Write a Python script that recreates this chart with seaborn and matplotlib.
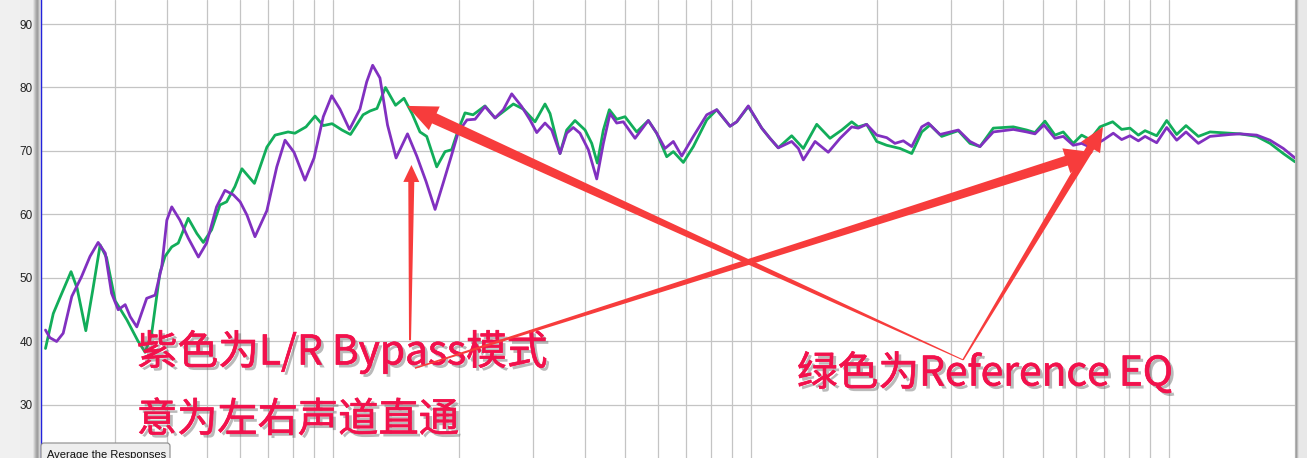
import numpy as np
import pandas as pd
import matplotlib
matplotlib.use("Agg")
import matplotlib.pyplot as plt
import matplotlib.patheffects as pe
from matplotlib.patches import Polygon, FancyBboxPatch
from matplotlib.ticker import NullFormatter
import seaborn as sns

# ── Data (Hz, dB SPL) ───────────────────────────────
freq_green = [20.5, 21.4, 22.2, 23.6, 24.4, 25.6, 26.6, 27.7, 28.7, 30.1,
              32.1, 34.1, 35.5, 36.8, 38.5, 39.6, 41.1, 42.6, 45.0, 47.2,
              48.9, 51.2, 53.6, 55.6, 58.2, 60.5, 64.8, 69.4, 72.6, 78.0,
              81.0, 86.1, 90.5, 94.7, 99.4, 105.0, 110.0, 117.9, 122.5, 127.3,
              133.4, 141.0, 147.7, 154.4, 161.3, 167.4, 176.9, 185.2, 192.1, 198.9,
              206.7, 216.1, 230.8, 243.9, 255.3, 269.8, 285.0, 304.0, 321.2, 330.2,
              348.9, 362.0, 378.9, 400.5, 415.5, 428.5, 443.0, 457.8, 476.8, 499.1,
              532.3, 567.5, 594.3, 628.0, 651.3, 688.2, 727.2, 782.9, 827.2, 890.1,
              923.6, 984.3, 1060, 1109, 1161, 1250, 1333, 1435, 1544, 1647,
              1740, 1804, 1889, 1997, 2110, 2270, 2422, 2559, 2679, 2856,
              3130, 3338, 3527, 3795, 4238, 4562, 4775, 5045, 5331, 5580,
              5896, 6175, 6464, 6831, 7326, 7698, 8058, 8439, 8756, 9336,
              9865, 10424, 10972, 11744, 12522, 13980, 14772, 16196, 17429, 18753, 20000]
db_green = [38.9, 44.4, 46.9, 51.0, 48.4, 41.7, 48.1, 55.2, 53.2, 46.4,
            43.4, 40.1, 38.3, 41.3, 50.8, 53.4, 54.9, 55.5, 59.4, 57.0,
            55.6, 57.6, 61.5, 62.0, 64.4, 67.2, 64.9, 70.6, 72.5, 73.0,
            72.8, 73.8, 75.5, 74.0, 74.3, 73.3, 72.6, 75.7, 76.3, 76.7,
            80.0, 77.2, 78.3, 75.9, 73.0, 72.3, 67.5, 69.9, 70.2, 73.2,
            76.0, 75.7, 77.1, 75.2, 76.2, 77.4, 76.6, 74.6, 77.4, 75.9,
            69.6, 73.3, 74.8, 73.3, 71.2, 68.1, 73.3, 76.5, 75.0, 75.4,
            73.0, 74.8, 72.8, 69.1, 69.9, 68.2, 70.7, 74.9, 76.5, 73.9,
            74.6, 77.0, 73.6, 72.0, 70.5, 72.4, 70.4, 74.2, 72.0, 73.3,
            74.6, 73.8, 74.2, 71.5, 70.9, 70.4, 69.6, 73.0, 74.1, 72.3,
            73.2, 71.2, 70.7, 73.6, 73.8, 73.3, 72.9, 74.7, 72.5, 73.0,
            71.2, 72.5, 71.8, 73.8, 74.6, 73.4, 73.6, 72.5, 73.2, 72.4,
            74.8, 72.6, 74.0, 72.3, 73.0, 72.8, 72.7, 72.3, 71.2, 69.6, 68.3]

freq_purple = [20.5, 21.0, 21.8, 22.6, 23.7, 25.0, 26.2, 27.4, 28.5, 29.5,
               30.6, 31.8, 32.7, 33.9, 35.8, 37.5, 38.9, 40.0, 41.1, 43.0,
               45.0, 47.6, 49.8, 52.6, 55.1, 57.7, 59.9, 62.2, 65.0, 69.4,
               73.3, 76.7, 80.6, 85.6, 90.0, 94.7, 99.2, 103.8, 109.4, 115.9,
               120.3, 124.3, 129.4, 134.9, 141.4, 150.6, 158.5, 166.8, 175.3, 183.4,
               192.1, 199.3, 209.0, 218.5, 230.8, 243.9, 255.3, 267.4, 282.5, 295.7,
               306.9, 321.2, 333.3, 348.9, 362.0, 375.3, 389.5, 407.8, 427.1, 443.0,
               459.5, 476.8, 494.4, 527.4, 567.5, 594.3, 622.1, 651.3, 682.2, 727.2,
               782.9, 827.2, 890.1, 923.6, 984.3, 1060, 1109, 1161, 1250, 1297,
               1333, 1422, 1529, 1632, 1740, 1804, 1889, 1997, 2110, 2208,
               2312, 2422, 2559, 2654, 2829, 3130, 3338, 3527, 3795, 4238,
               4562, 4775, 5017, 5331, 5580, 5896, 6175, 6464, 6945, 7350,
               7698, 8058, 8439, 8756, 9336, 9865, 10424, 10972, 11744, 12522,
               13980, 14772, 16196, 17429, 18753, 20000]
db_purple = [41.8, 40.6, 40.0, 41.3, 47.1, 50.2, 53.4, 55.6, 53.9, 47.6,
             45.0, 45.8, 43.9, 42.3, 46.8, 47.3, 51.8, 59.1, 61.2, 59.1,
             56.3, 53.3, 55.5, 61.2, 63.8, 63.1, 62.0, 59.9, 56.5, 60.6,
             67.5, 71.7, 69.8, 65.4, 68.9, 75.4, 78.7, 76.6, 73.4, 76.6,
             80.9, 83.5, 81.5, 74.1, 68.9, 72.7, 69.2, 65.2, 60.8, 65.0,
             69.4, 73.0, 74.9, 75.0, 77.0, 75.2, 76.5, 79.0, 77.0, 74.9,
             72.9, 74.4, 73.3, 69.6, 72.8, 73.7, 72.8, 70.2, 65.6, 71.2,
             75.9, 74.4, 74.6, 72.0, 74.8, 72.8, 70.4, 71.5, 69.2, 72.3,
             75.7, 76.5, 73.9, 74.6, 77.1, 73.6, 72.0, 70.5, 71.5, 70.4,
             68.6, 71.5, 69.8, 72.0, 73.8, 73.6, 74.2, 72.5, 72.1, 71.2,
             71.6, 70.7, 73.8, 74.4, 72.6, 73.3, 71.5, 70.7, 73.0, 73.4,
             73.0, 72.7, 74.1, 72.0, 72.3, 70.9, 71.2, 70.6, 71.7, 72.8,
             71.8, 72.4, 71.6, 72.3, 71.3, 73.7, 71.7, 73.0, 71.2, 72.3,
             72.6, 72.7, 72.5, 71.7, 70.4, 68.9]

series_names = ["Reference EQ", "L/R Bypass"]
y_ticks = [30, 40, 50, 60, 70, 80, 90]
grid_freqs = [20, 30, 40, 50, 60, 70, 80, 90,
              100, 200, 300, 400, 500, 600, 700, 800, 900,
              1000, 2000, 3000, 4000, 5000, 6000, 7000, 8000, 9000,
              10000, 20000]

label_purple = ["紫色为L/R Bypass模式", "意为左右声道直通"]
label_green = "绿色为Reference EQ"

# arrow (tail, tip) pairs in data units (Hz, dB)
arrow_vertical = ((152.7, 40.2), (153.9, 67.8))
arrow_to_green = ((3212, 37.1), (150.2, 77.1))
arrow_to_purple = ((156.9, 35.8), (6574, 69.8))
arrow_up_right = ((3212, 37.1), (6945, 73.8))

df = pd.concat([
    pd.DataFrame({"freq": freq_green, "dB": db_green, "curve": series_names[0]}),
    pd.DataFrame({"freq": freq_purple, "dB": db_purple, "curve": series_names[1]}),
], ignore_index=True)

# ── Style ────────────────────────────────────────────────────────────────────
sns.set_theme(style="white")
plt.rcParams['font.family'] = ['Noto Sans CJK SC', 'DejaVu Sans']

W, H = 1307, 458
fig = plt.figure(figsize=(W / 100, H / 100), dpi=100)

# grey side panels (REW window chrome)
left_cols = np.array([0.94] * 20 + [0.93] * 13 + [0.88, 0.80, 0.72, 0.65, 0.62, 0.70, 0.82, 0.90])
pan = fig.add_axes([0, 0, 41 / W, 1])
pan.imshow(np.tile(left_cols, (2, 1)), cmap="gray", vmin=0, vmax=1,
           aspect="auto", interpolation="nearest")
pan.axis("off")

right_cols = np.array([0.70, 0.62, 0.74, 0.86] + [0.91] * 8)
pan_r = fig.add_axes([1295 / W, 0, 12 / W, 1])
pan_r.imshow(np.tile(right_cols, (2, 1)), cmap="gray", vmin=0, vmax=1,
             aspect="auto", interpolation="nearest")
pan_r.axis("off")

# main plot area
ax = fig.add_axes([41 / W, 0, 1254 / W, 1])
ax.set_facecolor("white")
ax.set_xscale("log")

sns.lineplot(data=df, x="freq", y="dB", hue="curve", hue_order=series_names,
             palette=["#12ad5a", "#8130c0"], estimator=None, sort=False,
             linewidth=2.0, legend=False, ax=ax)
for ln in ax.lines:
    ln.set_solid_joinstyle("round")
    ln.set_solid_capstyle("round")

ax.set_xlim(20, 20000)
ax.set_ylim(21.65, 93.78)
ax.set_xticks(grid_freqs)
ax.set_xticks([], minor=True)
ax.xaxis.set_major_formatter(NullFormatter())
ax.set_yticks(y_ticks, labels=[str(v) for v in y_ticks],
              fontfamily="Liberation Sans", fontsize=8.5, color="#222222")
ax.tick_params(axis="both", length=0)
ax.tick_params(axis="y", pad=6)
ax.set_xlabel("")
ax.set_ylabel("")
ax.grid(True, which="major", color="#c4c4c4", linewidth=0.9)
ax.set_axisbelow(True)
for side in ["top", "right", "bottom"]:
    ax.spines[side].set_visible(False)
ax.spines["left"].set_color("#2222dd")
ax.spines["left"].set_linewidth(1.0)


def tapered_arrow(ax, tail, tip, w_tail, w_neck, head_len, head_half, color="#f73c3c"):
    p0 = ax.transData.transform(tail)
    p1 = ax.transData.transform(tip)
    d = (p1 - p0) / np.hypot(*(p1 - p0))
    n = np.array([-d[1], d[0]])
    neck = p1 - d * head_len
    pts = [p0 + n * w_tail / 2, neck + n * w_neck / 2, neck + n * head_half, p1,
           neck - n * head_half, neck - n * w_neck / 2, p0 - n * w_tail / 2]
    ax.add_patch(Polygon(ax.transData.inverted().transform(pts), closed=True,
                         facecolor=color, edgecolor="none", zorder=6, clip_on=False))


text_red = "#f2114c"
shadow = [pe.SimplePatchShadow(offset=(2.2, -2.2), shadow_rgbFace="#666666", alpha=0.45),
          pe.Stroke(linewidth=0.5, foreground=text_red), pe.Normal()]
ax.text(33.9, 38.4, label_purple[0], fontsize=29.3, color=text_red,
        ha="left", va="center", path_effects=shadow, zorder=5)
ax.text(33.9, 27.6, label_purple[1], fontsize=29.0, color=text_red,
        ha="left", va="center", path_effects=shadow, zorder=5)
ax.text(1287, 35.0, label_green, fontsize=29.3, color=text_red,
        ha="left", va="center", path_effects=shadow, zorder=5)

tapered_arrow(ax, *arrow_vertical, w_tail=2, w_neck=6, head_len=17, head_half=8)
tapered_arrow(ax, *arrow_to_green, w_tail=1, w_neck=11, head_len=30, head_half=13)
tapered_arrow(ax, *arrow_to_purple, w_tail=1.5, w_neck=10, head_len=28, head_half=13)
tapered_arrow(ax, *arrow_up_right, w_tail=1.5, w_neck=8, head_len=24, head_half=11)

# "Average the Responses" button peeking in at the bottom
button = FancyBboxPatch((0.41, -0.06), 1.29, 0.21,
                        boxstyle="round,pad=0,rounding_size=0.03",
                        transform=fig.dpi_scale_trans, facecolor="#eeeeee",
                        edgecolor="#8a8a8a", linewidth=0.8, zorder=8)
fig.add_artist(button)
fig.text(0.47, -0.005, "Average the Responses", transform=fig.dpi_scale_trans,
         fontsize=8, fontfamily="Liberation Sans", color="#111111",
         va="baseline", ha="left", zorder=9)

fig.savefig("out.png", dpi=100)
